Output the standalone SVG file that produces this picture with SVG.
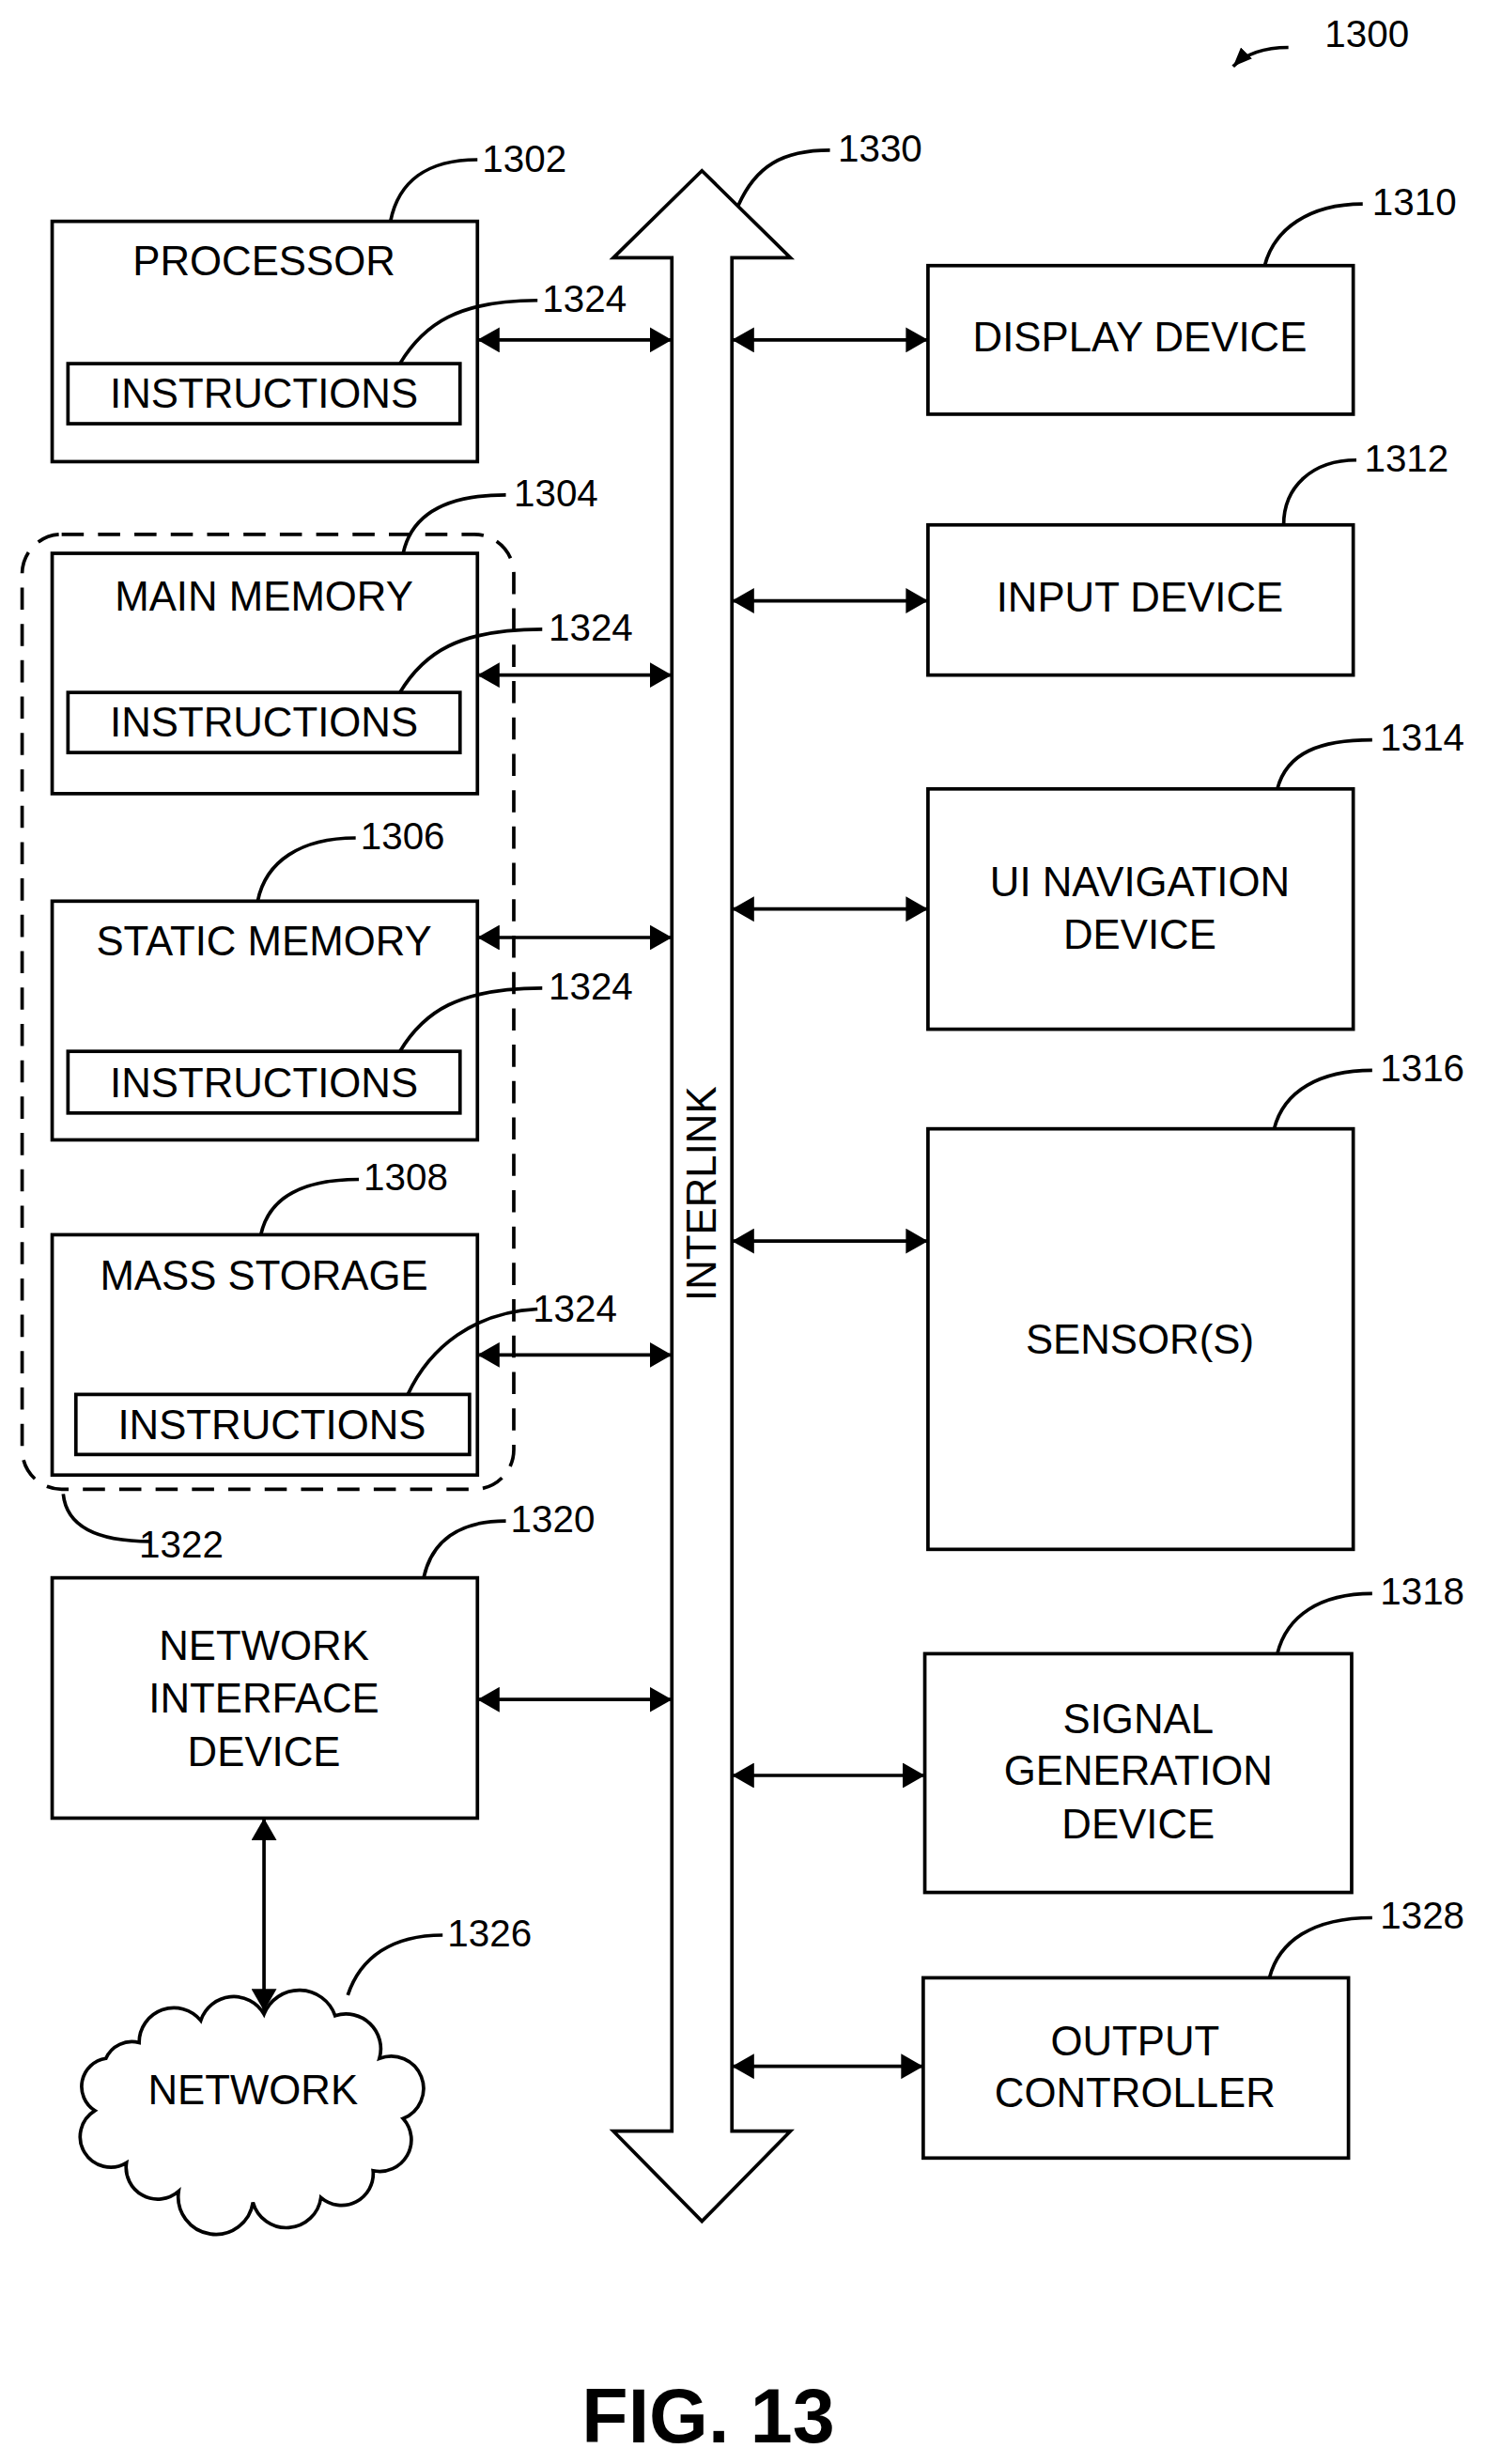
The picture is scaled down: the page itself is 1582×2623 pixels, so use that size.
<svg xmlns="http://www.w3.org/2000/svg" width="1582" height="2623" viewBox="0 0 1582 2623">
<style>
.b{fill:#fff;stroke:#000;stroke-width:2.2}
.l{fill:none;stroke:#000;stroke-width:2.2}
.c{fill:none;stroke:#000;stroke-width:2.2}
.t{font-family:"Liberation Sans",Arial,sans-serif;font-size:26px;text-anchor:middle;fill:#000}
.n{font-family:"Liberation Sans",Arial,sans-serif;font-size:24px;fill:#000}
</style>
<defs>
<marker id="a" viewBox="0 0 14 16" refX="14" refY="8" markerWidth="14" markerHeight="16" markerUnits="userSpaceOnUse" orient="auto-start-reverse"><path d="M0,0L14,8L0,16z" fill="#000"/></marker>
<marker id="s" viewBox="0 0 12 10" refX="12" refY="5" markerWidth="12" markerHeight="10" markerUnits="userSpaceOnUse" orient="auto"><path d="M0,0L12,5L0,10z" fill="#000"/></marker>
</defs>
<rect width="1582" height="2623" fill="#fff"/>
<g transform="scale(1.683)">
<g id="fig-label">
<path class="c" d="M815,30 Q792,30 780,42" marker-end="url(#s)"/>
<text class="n" x="838" y="30">1300</text>
</g>
<g id="interlink">
<polygon class="b" points="444,108 500,163 463,163 463,1348 500,1348 444,1405 388,1348 425,1348 425,163 388,163"/>
<text class="t" transform="translate(453,755) rotate(-90)">INTERLINK</text>
<path class="c" d="M467,130 C478,105 495,95 525,95"/>
<text class="n" x="530" y="102">1330</text>
</g>
<g id="storage-group">
<rect x="14" y="338" width="311" height="604" rx="25" fill="none" stroke="#000" stroke-width="2.2" stroke-dasharray="14,9"/>
<path class="c" d="M40,945 C42,965 60,975 95,975"/>
<text class="n" x="88" y="985">1322</text>
</g>
<g id="processor">
<rect class="b" x="33" y="140" width="269" height="152"/>
<text class="t" x="167" y="174">PROCESSOR</text>
<rect class="b" x="43" y="230" width="248" height="38"/>
<text class="t" x="167" y="258">INSTRUCTIONS</text>
<path class="c" d="M247,140 C252,115 270,101 302,101"/>
<text class="n" x="305" y="109">1302</text>
<path class="c" d="M253,230 C268,205 290,190 340,190"/>
<text class="n" x="343" y="197">1324</text>
</g>
<g id="main-memory">
<rect class="b" x="33" y="350" width="269" height="152"/>
<text class="t" x="167" y="386">MAIN MEMORY</text>
<rect class="b" x="43" y="438" width="248" height="38"/>
<text class="t" x="167" y="466">INSTRUCTIONS</text>
<path class="c" d="M255,350 C260,327 280,313 320,313"/>
<text class="n" x="325" y="320">1304</text>
<path class="c" d="M253,438 C268,413 290,398 343,398"/>
<text class="n" x="347" y="405">1324</text>
</g>
<g id="static-memory">
<rect class="b" x="33" y="570" width="269" height="151"/>
<text class="t" x="167" y="604">STATIC MEMORY</text>
<rect class="b" x="43" y="665" width="248" height="39"/>
<text class="t" x="167" y="694">INSTRUCTIONS</text>
<path class="c" d="M163,570 C168,545 190,530 225,530"/>
<text class="n" x="228" y="537">1306</text>
<path class="c" d="M253,665 C268,640 290,625 343,625"/>
<text class="n" x="347" y="632">1324</text>
</g>
<g id="mass-storage">
<rect class="b" x="33" y="781" width="269" height="152"/>
<text class="t" x="167" y="816">MASS STORAGE</text>
<rect class="b" x="48" y="882" width="249" height="38"/>
<text class="t" x="172" y="910">INSTRUCTIONS</text>
<path class="c" d="M165,781 C170,758 190,746 227,746"/>
<text class="n" x="230" y="753">1308</text>
<path class="c" d="M258,882 C272,852 300,830 340,828"/>
<text class="n" x="337" y="836">1324</text>
</g>
<g id="network-interface">
<rect class="b" x="33" y="998" width="269" height="152"/>
<text class="t" x="167" y="1050">NETWORK</text>
<text class="t" x="167" y="1083">INTERFACE</text>
<text class="t" x="167" y="1117">DEVICE</text>
<path class="c" d="M268,998 C273,975 290,962 320,962"/>
<text class="n" x="323" y="969">1320</text>
</g>
<g id="network">
<path class="b" d="M88,1292 A22,22 0 0 1 127,1278 A22,22 0 0 1 167,1274 A24,24 0 0 1 212,1275 A22,22 0 0 1 240,1302 A20,20 0 0 1 255,1340 A20,20 0 0 1 236,1373 A20,20 0 0 1 203,1390 A22,22 0 0 1 160,1393 A22,22 0 0 1 113,1386 A20,20 0 0 1 80,1368 A18,18 0 0 1 60,1335 A18,18 0 0 1 67,1302 A18,18 0 0 1 88,1292 Z"/>
<text class="t" x="160" y="1331">NETWORK</text>
<path class="c" d="M220,1262 C228,1238 248,1224 280,1224"/>
<text class="n" x="283" y="1231">1326</text>
</g>
<g id="display-device">
<rect class="b" x="587" y="168" width="269" height="94"/>
<text class="t" x="721" y="222">DISPLAY DEVICE</text>
<path class="c" d="M800,168 C806,145 828,129 862,129"/>
<text class="n" x="868" y="136">1310</text>
</g>
<g id="input-device">
<rect class="b" x="587" y="332" width="269" height="95"/>
<text class="t" x="721" y="387">INPUT DEVICE</text>
<path class="c" d="M812,332 C812,308 830,291 858,291"/>
<text class="n" x="863" y="298">1312</text>
</g>
<g id="ui-navigation">
<rect class="b" x="587" y="499" width="269" height="152"/>
<text class="t" x="721" y="567">UI NAVIGATION</text>
<text class="t" x="721" y="600">DEVICE</text>
<path class="c" d="M808,499 C814,476 835,468 868,468"/>
<text class="n" x="873" y="475">1314</text>
</g>
<g id="sensors">
<rect class="b" x="587" y="714" width="269" height="266"/>
<text class="t" x="721" y="856">SENSOR(S)</text>
<path class="c" d="M806,714 C812,690 835,677 868,677"/>
<text class="n" x="873" y="684">1316</text>
</g>
<g id="signal-generation">
<rect class="b" x="585" y="1046" width="270" height="151"/>
<text class="t" x="720" y="1096">SIGNAL</text>
<text class="t" x="720" y="1129">GENERATION</text>
<text class="t" x="720" y="1163">DEVICE</text>
<path class="c" d="M808,1046 C814,1022 835,1008 868,1008"/>
<text class="n" x="873" y="1015">1318</text>
</g>
<g id="output-controller">
<rect class="b" x="584" y="1251" width="269" height="114"/>
<text class="t" x="718" y="1300">OUTPUT</text>
<text class="t" x="718" y="1333">CONTROLLER</text>
<path class="c" d="M803,1251 C809,1228 830,1213 868,1213"/>
<text class="n" x="873" y="1220">1328</text>
</g>
<g id="connectors">
<line class="l" x1="302" y1="215" x2="425" y2="215" marker-start="url(#a)" marker-end="url(#a)"/>
<line class="l" x1="302" y1="427" x2="425" y2="427" marker-start="url(#a)" marker-end="url(#a)"/>
<line class="l" x1="302" y1="593" x2="425" y2="593" marker-start="url(#a)" marker-end="url(#a)"/>
<line class="l" x1="302" y1="857" x2="425" y2="857" marker-start="url(#a)" marker-end="url(#a)"/>
<line class="l" x1="302" y1="1075" x2="425" y2="1075" marker-start="url(#a)" marker-end="url(#a)"/>
<line class="l" x1="463" y1="215" x2="587" y2="215" marker-start="url(#a)" marker-end="url(#a)"/>
<line class="l" x1="463" y1="380" x2="587" y2="380" marker-start="url(#a)" marker-end="url(#a)"/>
<line class="l" x1="463" y1="575" x2="587" y2="575" marker-start="url(#a)" marker-end="url(#a)"/>
<line class="l" x1="463" y1="785" x2="587" y2="785" marker-start="url(#a)" marker-end="url(#a)"/>
<line class="l" x1="463" y1="1123" x2="585" y2="1123" marker-start="url(#a)" marker-end="url(#a)"/>
<line class="l" x1="463" y1="1307" x2="584" y2="1307" marker-start="url(#a)" marker-end="url(#a)"/>
<line class="l" x1="167" y1="1150" x2="167" y2="1272" marker-start="url(#a)" marker-end="url(#a)"/>
</g>
<text x="448" y="1545" style="font-family:'Liberation Sans',Arial,sans-serif;font-size:48px;font-weight:bold;text-anchor:middle">FIG. 13</text>
</g>
</svg>
